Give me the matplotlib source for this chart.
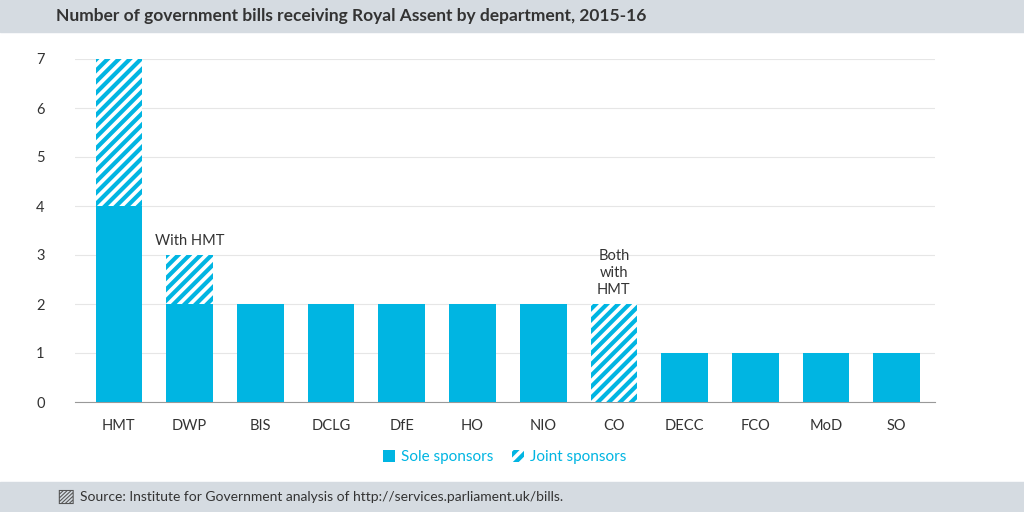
import matplotlib.pyplot as plt
from matplotlib.patches import Rectangle
import matplotlib

matplotlib.rcParams['font.family'] = ['Lato', 'DejaVu Sans']
matplotlib.rcParams['hatch.linewidth'] = 3.0

departments = ['HMT', 'DWP', 'BIS', 'DCLG', 'DfE', 'HO', 'NIO', 'CO', 'DECC', 'FCO', 'MoD', 'SO']
sole = [4, 2, 2, 2, 2, 2, 2, 0, 1, 1, 1, 1]
joint = [3, 1, 0, 0, 0, 0, 0, 2, 0, 0, 0, 0]

BLUE = '#00b5e2'
GREY_BAR = '#d5dbe1'
TEXT = '#333333'

fig = plt.figure(figsize=(10.24, 5.12), dpi=100)
fig.patches.append(Rectangle((0, 1 - 32 / 512), 1, 32 / 512, transform=fig.transFigure,
                             color=GREY_BAR, zorder=0))
fig.patches.append(Rectangle((0, 0), 1, 30 / 512, transform=fig.transFigure,
                             color=GREY_BAR, zorder=0))
fig.text(0.055, 1 - 16 / 512, 'Number of government bills receiving Royal Assent by department, 2015-16',
         fontsize=12.5, color=TEXT, va='center', fontweight='bold')
fig.text(0.055, 0.5 * 30 / 512 + 0.002, '\u25a8', fontsize=14, color='#555555', va='center', ha='left',
         family=['DejaVu Sans'])
fig.text(0.078, 0.5 * 30 / 512, 'Source: Institute for Government analysis of http://services.parliament.uk/bills.',
         fontsize=10, color=TEXT, va='center')

ax = fig.add_axes([75 / 1024, 1 - 402 / 512, 860 / 1024, 343 / 512])
x = list(range(len(departments)))
w = 0.66
ax.bar(x, sole, width=w, color=BLUE, linewidth=0, zorder=3, label='Sole sponsors')
ax.bar(x, joint, width=w, bottom=sole, color='white', edgecolor=BLUE, hatch='///',
       linewidth=0, zorder=3, label='Joint sponsors')

ax.text(1, 3.15, 'With HMT', ha='center', va='bottom', fontsize=10.5, color=TEXT)
ax.text(7, 2.15, 'Both\nwith\nHMT', ha='center', va='bottom', fontsize=10.5, color=TEXT, linespacing=1.25)

ax.set_xlim(-0.62, 11.54)
ax.set_ylim(0, 7)
ax.set_yticks(range(8))
ax.set_xticks(x)
ax.set_xticklabels(departments)
ax.tick_params(length=0, labelsize=10.5, colors=TEXT)
ax.tick_params(axis='y', pad=28)
ax.tick_params(axis='x', pad=12)
for lab in ax.get_yticklabels():
    lab.set_horizontalalignment('left')
ax.grid(axis='y', color='#e6e6e6', linewidth=0.8, zorder=0)
for s in ['top', 'right', 'left']:
    ax.spines[s].set_visible(False)
ax.spines['bottom'].set_color('#999999')

ax.legend(loc='upper center', bbox_to_anchor=(0.5, -0.1), ncol=2, frameon=False,
          fontsize=11, handlelength=0.8, handleheight=0.8, handletextpad=0.4,
          columnspacing=1.2, labelcolor=BLUE)

fig.savefig('out.png', dpi=100)
